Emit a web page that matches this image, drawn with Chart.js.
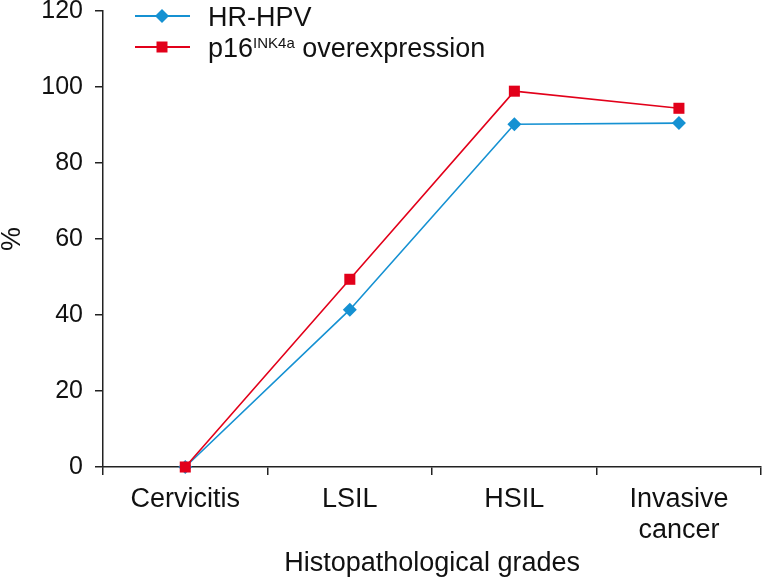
<!DOCTYPE html>
<html>
<head>
<meta charset="utf-8">
<script src="https://cdn.jsdelivr.net/npm/chart.js@4"></script>
<style>
  html, body { margin: 0; padding: 0; background: #fff; }
  #wrap { width: 769px; height: 577px; }
</style>
</head>
<body>
<div id="wrap"><canvas id="chart1" width="769" height="577"></canvas></div>
<script>
const grades = ["Cervicitis", "LSIL", "HSIL", ["Invasive", "cancer"]];
const hrHpv = [0, 41.4, 90.2, 90.5];
const p16 = [0, 49.4, 98.9, 94.4];
const yTicks = [0, 20, 40, 60, 80, 100, 120];

const blue = "#1591d2";
const red = "#e2001a";
const font = "'Liberation Sans', Arial, sans-serif";

// legend with superscript, drawn by hand
const legendPlugin = {
  id: "supLegend",
  afterDraw(chart) {
    const c = chart.ctx;
    c.save();
    const rows = [
      { color: blue, shape: "diamond", y: 16, parts: [["HR-HPV", 27, 0]] },
      { color: red, shape: "square", y: 47, parts: [["p16", 27, 0], ["INK4a", 15, -9], [" overexpression", 27, 0]] },
    ];
    rows.forEach((r) => {
      c.strokeStyle = r.color;
      c.lineWidth = 1.8;
      c.beginPath();
      c.moveTo(135, r.y);
      c.lineTo(190, r.y);
      c.stroke();
      c.fillStyle = r.color;
      c.beginPath();
      if (r.shape === "diamond") {
        c.moveTo(162, r.y - 7);
        c.lineTo(169, r.y);
        c.lineTo(162, r.y + 7);
        c.lineTo(155, r.y);
      } else {
        c.rect(156.5, r.y - 5.5, 11, 11);
      }
      c.closePath();
      c.fill();
      let x = 208;
      c.fillStyle = "#111";
      c.textBaseline = "alphabetic";
      r.parts.forEach(([t, size, dy]) => {
        c.font = size + "px " + font;
        c.fillText(t, x, r.y + 9.5 + dy);
        x += c.measureText(t).width;
      });
    });
    c.restore();
  },
};

new Chart(document.getElementById("chart1"), {
  type: "line",
  data: {
    labels: grades,
    datasets: [
      {
        label: "HR-HPV",
        data: hrHpv,
        borderColor: blue,
        backgroundColor: blue,
        borderWidth: 1.6,
        pointStyle: "rectRot",
        pointRadius: 7,
        pointBorderWidth: 0,
        order: 1,
        clip: false,
      },
      {
        label: "p16INK4a overexpression",
        data: p16,
        borderColor: red,
        backgroundColor: red,
        borderWidth: 1.6,
        pointStyle: "rect",
        pointRadius: 7.8,
        pointBorderWidth: 0,
        order: 0,
        clip: false,
      },
    ],
  },
  options: {
    responsive: false,
    animation: false,
    layout: { padding: { top: 11, right: 3, left: 0, bottom: 0 } },
    plugins: { legend: { display: false }, tooltip: { enabled: false } },
    scales: {
      x: {
        offset: true,
        grid: { offset: true, drawOnChartArea: false, tickLength: 8, color: "#222", lineWidth: 1.5 },
        border: { color: "#222", width: 1.5 },
        ticks: { color: "#111", padding: 9, maxRotation: 0, font: { family: font, size: 27, lineHeight: 1.15 } },
        title: {
          display: true,
          text: "Histopathological grades",
          color: "#111",
          font: { family: font, size: 27, lineHeight: 1 },
          padding: { top: 3, bottom: 0 },
        },
        afterFit: (s) => { s.height = 110; s.paddingTop = 0; s.paddingBottom = 0; },
      },
      y: {
        min: 0,
        max: 120,
        afterBuildTicks: (s) => { s.ticks = yTicks.map((v) => ({ value: v })); },
        grid: { drawOnChartArea: false, tickLength: 8, color: "#222", lineWidth: 1.5 },
        border: { color: "#222", width: 1.5 },
        ticks: { color: "#111", padding: 12, font: { family: font, size: 25, lineHeight: 0.85 } },
        title: {
          display: true,
          text: "%",
          color: "#111",
          font: { family: font, size: 27, lineHeight: 0.9 },
          padding: { top: 0, bottom: 0 },
        },
        afterFit: (s) => { s.width = 103; s.paddingTop = 0; s.paddingBottom = 0; },
      },
    },
  },
  plugins: [legendPlugin],
});
</script>
</body>
</html>
